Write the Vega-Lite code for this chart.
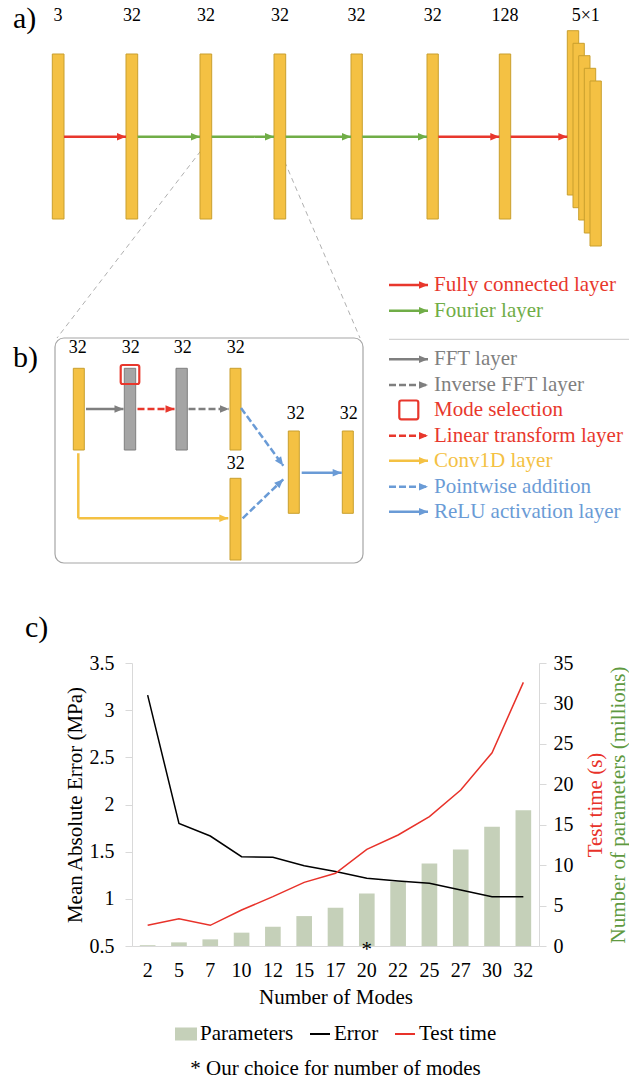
{
  "$schema": "https://vega.github.io/schema/vega-lite/v6.json",
  "padding": 0,
  "bounds": "flush",
  "spacing": 20,
  "config": {
    "font": "Liberation Serif",
    "text": {"font": "Liberation Serif"},
    "axis": {"labelFont": "Liberation Serif", "titleFont": "Liberation Serif"},
    "legend": {"labelFont": "Liberation Serif", "titleFont": "Liberation Serif", "layout": {"bottom": {"anchor": "middle"}}},
    "title": {"font": "Liberation Serif"},
    "view": {"stroke": null}
  },
  "resolve": {"scale": {"color": "independent", "stroke": "independent", "strokeDash": "independent", "x": "independent", "y": "independent"}},
  "datasets": {
    "bg": [{"x": 0, "x2": 629, "y": 0, "y2": 1082}],
    "box": [{"x": 55, "x2": 363, "y": 338, "y2": 563, "kind": "box"}],
    "squares": [
      {"x": 120.7, "x2": 139.3, "y": 365, "y2": 384, "kind": "mode"},
      {"x": 399.3, "x2": 418.3, "y": 400.5, "y2": 419.3, "kind": "mode"}
    ],
    "thin": [
      {"x": 211.7, "y": 136.7, "x2": 57, "y2": 338, "kind": "conn", "dash": "fine"},
      {"x": 274, "y": 136.7, "x2": 360, "y2": 338, "kind": "conn", "dash": "fine"},
      {"x": 389, "y": 339.3, "x2": 629, "y2": 339.3, "kind": "sep", "dash": "solid"}
    ],
    "bars": [
      {"x": 52.3, "x2": 64, "y": 54, "y2": 219, "kind": "ybar"},
      {"x": 126, "x2": 137.7, "y": 54, "y2": 219, "kind": "ybar"},
      {"x": 200, "x2": 211.7, "y": 54, "y2": 219, "kind": "ybar"},
      {"x": 274, "x2": 285.7, "y": 54, "y2": 219, "kind": "ybar"},
      {"x": 351, "x2": 362.3, "y": 54, "y2": 219, "kind": "ybar"},
      {"x": 427, "x2": 438.3, "y": 54, "y2": 219, "kind": "ybar"},
      {"x": 499.3, "x2": 510.7, "y": 54, "y2": 219, "kind": "ybar"},
      {"x": 567.3, "x2": 578.7, "y": 30.7, "y2": 195, "kind": "ybar"},
      {"x": 573, "x2": 584.3, "y": 43.3, "y2": 207.7, "kind": "ybar"},
      {"x": 578.7, "x2": 590, "y": 55.7, "y2": 220, "kind": "ybar"},
      {"x": 584.3, "x2": 595.7, "y": 68.3, "y2": 233, "kind": "ybar"},
      {"x": 590, "x2": 601.3, "y": 81, "y2": 246, "kind": "ybar"},
      {"x": 73.3, "x2": 84.3, "y": 368.3, "y2": 450, "kind": "ybar"},
      {"x": 124.3, "x2": 135.7, "y": 368.3, "y2": 450, "kind": "gbar"},
      {"x": 176, "x2": 187.3, "y": 368.3, "y2": 450, "kind": "gbar"},
      {"x": 230, "x2": 241, "y": 368.3, "y2": 450, "kind": "ybar"},
      {"x": 230, "x2": 241, "y": 478.3, "y2": 560, "kind": "ybar"},
      {"x": 288.3, "x2": 299.3, "y": 431, "y2": 513.3, "kind": "ybar"},
      {"x": 342.3, "x2": 353.3, "y": 431, "y2": 513.3, "kind": "ybar"}
    ],
    "arrows": [
      {"x": 64, "y": 136.7, "x2": 126, "y2": 136.7, "kind": "fc", "dash": "solid"},
      {"x": 137.7, "y": 136.7, "x2": 200, "y2": 136.7, "kind": "fourier", "dash": "solid"},
      {"x": 211.7, "y": 136.7, "x2": 274, "y2": 136.7, "kind": "fourier", "dash": "solid"},
      {"x": 285.7, "y": 136.7, "x2": 351, "y2": 136.7, "kind": "fourier", "dash": "solid"},
      {"x": 362.3, "y": 136.7, "x2": 427, "y2": 136.7, "kind": "fourier", "dash": "solid"},
      {"x": 438.3, "y": 136.7, "x2": 499.3, "y2": 136.7, "kind": "fc", "dash": "solid"},
      {"x": 510.7, "y": 136.7, "x2": 567.3, "y2": 136.7, "kind": "fc", "dash": "solid"},
      {"x": 389, "y": 285, "x2": 428, "y2": 285, "kind": "fc", "dash": "solid"},
      {"x": 389, "y": 310.7, "x2": 428, "y2": 310.7, "kind": "fourier", "dash": "solid"},
      {"x": 389, "y": 359.3, "x2": 428, "y2": 359.3, "kind": "fft", "dash": "solid"},
      {"x": 389, "y": 385, "x2": 428, "y2": 385, "kind": "fft", "dash": "dash"},
      {"x": 389, "y": 435.7, "x2": 428, "y2": 435.7, "kind": "linear", "dash": "dash"},
      {"x": 389, "y": 460.7, "x2": 428, "y2": 460.7, "kind": "conv", "dash": "solid"},
      {"x": 389, "y": 486.7, "x2": 428, "y2": 486.7, "kind": "add", "dash": "dash"},
      {"x": 389, "y": 511.7, "x2": 428, "y2": 511.7, "kind": "relu", "dash": "solid"},
      {"x": 86, "y": 409, "x2": 123.5, "y2": 409, "kind": "fft", "dash": "solid"},
      {"x": 137.5, "y": 409, "x2": 174.5, "y2": 409, "kind": "linear", "dash": "dash"},
      {"x": 188.5, "y": 409, "x2": 229, "y2": 409, "kind": "fft", "dash": "dash"},
      {"x": 241, "y": 408, "x2": 283.3, "y2": 465.7, "kind": "add", "dash": "dash"},
      {"x": 242.7, "y": 518.3, "x2": 283.3, "y2": 479.3, "kind": "add", "dash": "dash"},
      {"x": 301.7, "y": 472.7, "x2": 341.7, "y2": 472.7, "kind": "relu", "dash": "solid"},
      {"x": 78.3, "y": 453.3, "x2": 78.3, "y2": 518.3, "kind": "conv", "dash": "solid"},
      {"x": 78.3, "y": 518.3, "x2": 228.3, "y2": 518.3, "kind": "conv", "dash": "solid"}
    ],
    "heads": [
      {"x": 126, "y": 136.7, "angle": 0, "kind": "fc"},
      {"x": 200, "y": 136.7, "angle": 0, "kind": "fourier"},
      {"x": 274, "y": 136.7, "angle": 0, "kind": "fourier"},
      {"x": 351, "y": 136.7, "angle": 0, "kind": "fourier"},
      {"x": 427, "y": 136.7, "angle": 0, "kind": "fourier"},
      {"x": 499.3, "y": 136.7, "angle": 0, "kind": "fc"},
      {"x": 567.3, "y": 136.7, "angle": 0, "kind": "fc"},
      {"x": 428, "y": 285, "angle": 0, "kind": "fc"},
      {"x": 428, "y": 310.7, "angle": 0, "kind": "fourier"},
      {"x": 428, "y": 359.3, "angle": 0, "kind": "fft"},
      {"x": 428, "y": 385, "angle": 0, "kind": "fft"},
      {"x": 428, "y": 435.7, "angle": 0, "kind": "linear"},
      {"x": 428, "y": 460.7, "angle": 0, "kind": "conv"},
      {"x": 428, "y": 486.7, "angle": 0, "kind": "add"},
      {"x": 428, "y": 511.7, "angle": 0, "kind": "relu"},
      {"x": 123.5, "y": 409, "angle": 0, "kind": "fft"},
      {"x": 174.5, "y": 409, "angle": 0, "kind": "linear"},
      {"x": 229, "y": 409, "angle": 0, "kind": "fft"},
      {"x": 283.3, "y": 465.7, "angle": 53.8, "kind": "add"},
      {"x": 283.3, "y": 479.3, "angle": -43.8, "kind": "add"},
      {"x": 341.7, "y": 472.7, "angle": 0, "kind": "relu"},
      {"x": 228.3, "y": 518.3, "angle": 0, "kind": "conv"}
    ],
    "panels": [
      {"x": 13, "y": 28, "text": "a)"},
      {"x": 13, "y": 367, "text": "b)"},
      {"x": 25, "y": 637, "text": "c)"}
    ],
    "nums": [
      {"x": 58, "y": 21, "text": "3"},
      {"x": 132, "y": 21, "text": "32"},
      {"x": 206, "y": 21, "text": "32"},
      {"x": 280, "y": 21, "text": "32"},
      {"x": 356.5, "y": 21, "text": "32"},
      {"x": 432.7, "y": 21, "text": "32"},
      {"x": 505, "y": 21, "text": "128"},
      {"x": 585.8, "y": 21, "text": "5×1"},
      {"x": 77.8, "y": 353, "text": "32"},
      {"x": 130.8, "y": 353, "text": "32"},
      {"x": 182.8, "y": 353, "text": "32"},
      {"x": 235.8, "y": 353, "text": "32"},
      {"x": 235.8, "y": 469, "text": "32"},
      {"x": 295.8, "y": 419, "text": "32"},
      {"x": 348.8, "y": 419, "text": "32"}
    ],
    "legtext": [
      {"x": 434, "y": 285, "text": "Fully connected layer", "kind": "fc"},
      {"x": 434, "y": 310.7, "text": "Fourier layer", "kind": "fourier"},
      {"x": 434, "y": 359.3, "text": "FFT layer", "kind": "fft"},
      {"x": 434, "y": 385, "text": "Inverse FFT layer", "kind": "fft"},
      {"x": 434, "y": 410, "text": "Mode selection", "kind": "mode"},
      {"x": 434, "y": 435.7, "text": "Linear transform layer", "kind": "linear"},
      {"x": 434, "y": 460.7, "text": "Conv1D layer", "kind": "conv"},
      {"x": 434, "y": 486.7, "text": "Pointwise addition", "kind": "add"},
      {"x": 434, "y": 511.7, "text": "ReLU activation layer", "kind": "relu"}
    ],
    "modes": [
      {"mode": 2, "error": 3.16, "time": 2.56, "params": 0.10},
      {"mode": 5, "error": 1.80, "time": 3.38, "params": 0.45},
      {"mode": 7, "error": 1.666, "time": 2.56, "params": 0.82},
      {"mode": 10, "error": 1.447, "time": 4.45, "params": 1.65},
      {"mode": 12, "error": 1.44, "time": 6.1, "params": 2.39},
      {"mode": 15, "error": 1.35, "time": 7.87, "params": 3.70},
      {"mode": 17, "error": 1.29, "time": 8.99, "params": 4.74},
      {"mode": 20, "error": 1.218, "time": 11.95, "params": 6.50},
      {"mode": 22, "error": 1.19, "time": 13.73, "params": 7.95},
      {"mode": 25, "error": 1.165, "time": 16.0, "params": 10.2},
      {"mode": 27, "error": 1.094, "time": 19.3, "params": 11.95},
      {"mode": 30, "error": 1.023, "time": 23.9, "params": 14.76},
      {"mode": 32, "error": 1.023, "time": 32.6, "params": 16.78}
    ],
    "star": [{"mode": 20, "note": "*"}]
  },
  "vconcat": [
    {
      "width": 497,
      "height": 643,
      "layer": [
        {
          "data": {"name": "bg"},
          "mark": {"type": "rect", "fill": "white"},
          "encoding": {
            "x": {"field": "x", "type": "quantitative", "scale": {"domain": [132, 629], "nice": false, "zero": false}, "axis": null},
            "x2": {"field": "x2"},
            "y": {"field": "y", "type": "quantitative", "scale": {"domain": [0, 643], "reverse": true, "nice": false, "zero": false}, "axis": null},
            "y2": {"field": "y2"}
          }
        },
        {
          "data": {"name": "box"},
          "mark": {"type": "rect", "filled": false, "cornerRadius": 9, "strokeWidth": 1.2},
          "encoding": {
            "x": {"field": "x", "type": "quantitative"},
            "x2": {"field": "x2"},
            "y": {"field": "y", "type": "quantitative"},
            "y2": {"field": "y2"},
            "color": {"field": "kind", "type": "nominal", "legend": null,
              "scale": {"domain": ["fc","fourier","fft","linear","mode","conv","add","relu","box","conn","sep","ybar","gbar"],
                        "range": ["#e8372c","#70ad47","#7f7f7f","#e8372c","#e8372c","#f4c143","#6a9bd6","#6a9bd6","#a6a6a6","#b0b0b0","#c8c8c8","#f4c143","#a5a5a5"]}}
          }
        },
        {
          "data": {"name": "thin"},
          "mark": {"type": "rule", "strokeWidth": 1},
          "encoding": {
            "x": {"field": "x", "type": "quantitative"},
            "x2": {"field": "x2"},
            "y": {"field": "y", "type": "quantitative"},
            "y2": {"field": "y2"},
            "color": {"field": "kind", "type": "nominal", "legend": null},
            "strokeDash": {"field": "dash", "type": "nominal", "legend": null,
              "scale": {"domain": ["solid", "dash", "fine"], "range": [[1, 0], [7, 3], [5, 4]]}}
          }
        },
        {
          "data": {"name": "bars"},
          "mark": {"type": "rect", "strokeWidth": 1},
          "encoding": {
            "x": {"field": "x", "type": "quantitative"},
            "x2": {"field": "x2"},
            "y": {"field": "y", "type": "quantitative"},
            "y2": {"field": "y2"},
            "color": {"field": "kind", "type": "nominal", "legend": null},
            "stroke": {"field": "kind", "type": "nominal", "legend": null,
              "scale": {"domain": ["ybar", "gbar"], "range": ["#c99f2e", "#7f7f7f"]}}
          }
        },
        {
          "data": {"name": "arrows"},
          "mark": {"type": "rule", "strokeWidth": 2.5},
          "encoding": {
            "x": {"field": "x", "type": "quantitative"},
            "x2": {"field": "x2"},
            "y": {"field": "y", "type": "quantitative"},
            "y2": {"field": "y2"},
            "color": {"field": "kind", "type": "nominal", "legend": null},
            "strokeDash": {"field": "dash", "type": "nominal", "legend": null}
          }
        },
        {
          "data": {"name": "heads"},
          "mark": {"type": "point", "shape": "M0,0L-2,-0.85L-2,0.85Z", "filled": true, "size": 81, "opacity": 1, "strokeWidth": 0},
          "encoding": {
            "x": {"field": "x", "type": "quantitative"},
            "y": {"field": "y", "type": "quantitative"},
            "angle": {"field": "angle", "type": "quantitative", "scale": null},
            "color": {"field": "kind", "type": "nominal", "legend": null}
          }
        },
        {
          "data": {"name": "squares"},
          "mark": {"type": "rect", "filled": false, "cornerRadius": 2, "strokeWidth": 2.2},
          "encoding": {
            "x": {"field": "x", "type": "quantitative"},
            "x2": {"field": "x2"},
            "y": {"field": "y", "type": "quantitative"},
            "y2": {"field": "y2"},
            "color": {"field": "kind", "type": "nominal", "legend": null}
          }
        },
        {
          "data": {"name": "panels"},
          "mark": {"type": "text", "font": "Liberation Serif", "fontSize": 30, "align": "left", "baseline": "alphabetic", "color": "black"},
          "encoding": {
            "x": {"field": "x", "type": "quantitative"},
            "y": {"field": "y", "type": "quantitative"},
            "text": {"field": "text"}
          }
        },
        {
          "data": {"name": "nums"},
          "mark": {"type": "text", "font": "Liberation Serif", "fontSize": 18, "align": "center", "baseline": "alphabetic", "color": "black"},
          "encoding": {
            "x": {"field": "x", "type": "quantitative"},
            "y": {"field": "y", "type": "quantitative"},
            "text": {"field": "text"}
          }
        },
        {
          "data": {"name": "legtext"},
          "mark": {"type": "text", "font": "Liberation Serif", "fontSize": 21, "align": "left", "baseline": "middle"},
          "encoding": {
            "x": {"field": "x", "type": "quantitative"},
            "y": {"field": "y", "type": "quantitative"},
            "text": {"field": "text"},
            "color": {"field": "kind", "type": "nominal", "legend": null}
          }
        }
      ]
    },
    {
      "width": 407,
      "height": 283,
      "title": {"text": "* Our choice for number of modes", "orient": "bottom", "anchor": "middle", "font": "Liberation Serif", "fontSize": 21, "fontWeight": "normal", "color": "black", "offset": 14},
      "layer": [
        {
          "data": {"name": "modes"},
          "mark": {"type": "bar"},
          "encoding": {
            "x": {"field": "mode", "type": "ordinal", "scale": {"paddingInner": 0.5, "paddingOuter": 0.25},
              "axis": {"title": "Number of Modes", "labelAngle": 0, "ticks": false, "labelPadding": 14, "labelFont": "Liberation Serif", "labelFontSize": 20, "labelColor": "black", "titleFont": "Liberation Serif", "titleFontSize": 21, "titleFontWeight": "normal", "titleColor": "black", "titlePadding": 6, "domainColor": "#d9d9d9", "grid": false}},
            "y": {"field": "params", "type": "quantitative", "scale": {"domain": [0, 35], "nice": false},
              "axis": {"orient": "right", "offset": 68, "title": "Number of parameters (millions)", "titleColor": "#5f9a41", "labels": false, "ticks": false, "domain": false, "grid": false, "titleFont": "Liberation Serif", "titleFontSize": 21, "titleFontWeight": "normal", "titleAngle": 270, "titleBaseline": "top", "titlePadding": 0}},
            "color": {"datum": "Parameters", "type": "nominal",
              "scale": {"domain": ["Parameters", "Error", "Test time"], "range": ["#c5d0b9", "#000000", "#e8322a"]},
              "legend": {"orient": "bottom", "direction": "horizontal", "title": null, "symbolSize": 400, "symbolStrokeWidth": 2,
                "labelFont": "Liberation Serif", "labelFontSize": 21, "labelColor": "black", "columnPadding": 12, "labelOffset": 3, "offset": 16,
                "encode": {"symbols": {"update": {
                  "shape": {"signal": "datum.value === 'Parameters' ? 'M-1,-0.55H1V0.55H-1Z' : 'stroke'"},
                  "fill": {"signal": "datum.value === 'Parameters' ? '#c5d0b9' : 'transparent'"},
                  "stroke": {"signal": "datum.value === 'Parameters' ? 'transparent' : (datum.value === 'Error' ? '#000000' : '#e8322a')"},
                  "strokeWidth": {"value": 2}
                }}}}}
          }
        },
        {
          "data": {"name": "modes"},
          "mark": {"type": "line", "strokeWidth": 1.5},
          "encoding": {
            "x": {"field": "mode", "type": "ordinal"},
            "y": {"field": "error", "type": "quantitative", "scale": {"domain": [0.5, 3.5], "nice": false, "zero": false},
              "axis": {"orient": "left", "values": [0.5, 1, 1.5, 2, 2.5, 3, 3.5], "format": "~g", "title": "Mean Absolute Error (MPa)", "grid": false,
                "tickSize": 7, "tickColor": "#d9d9d9", "domainColor": "#d9d9d9", "labelPadding": 11, "labelFont": "Liberation Serif", "labelFontSize": 20, "labelColor": "black",
                "titleFont": "Liberation Serif", "titleFontSize": 21, "titleFontWeight": "normal", "titleColor": "black", "titlePadding": 4}},
            "color": {"datum": "Error", "type": "nominal"}
          }
        },
        {
          "data": {"name": "modes"},
          "mark": {"type": "line", "strokeWidth": 1.5},
          "encoding": {
            "x": {"field": "mode", "type": "ordinal"},
            "y": {"field": "time", "type": "quantitative", "scale": {"domain": [0, 35], "nice": false},
              "axis": {"orient": "right", "values": [0, 5, 10, 15, 20, 25, 30, 35], "format": "d", "title": "Test time (s)", "grid": false,
                "tickSize": 7, "tickColor": "#d9d9d9", "domainColor": "#d9d9d9", "labelPadding": 7, "labelFont": "Liberation Serif", "labelFontSize": 20, "labelColor": "black",
                "titleFont": "Liberation Serif", "titleFontSize": 21, "titleFontWeight": "normal", "titleColor": "#e8322a", "titleAngle": 270, "titleBaseline": "top", "titlePadding": 11}},
            "color": {"datum": "Test time", "type": "nominal"}
          }
        },
        {
          "data": {"name": "star"},
          "mark": {"type": "text", "font": "Liberation Serif", "fontSize": 21, "baseline": "alphabetic", "dy": 10, "color": "black"},
          "encoding": {
            "x": {"field": "mode", "type": "ordinal"},
            "y": {"datum": 0.5, "type": "quantitative", "scale": {"domain": [0.5, 3.5], "nice": false, "zero": false}, "axis": null},
            "text": {"field": "note"}
          }
        }
      ],
      "resolve": {"scale": {"y": "independent"}}
    }
  ]
}
